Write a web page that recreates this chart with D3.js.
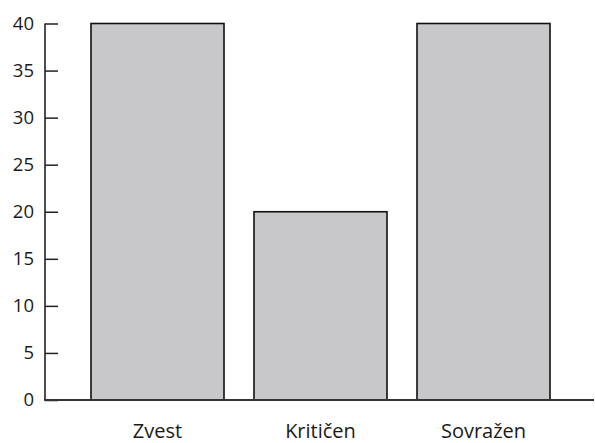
<!DOCTYPE html>
<html>
<head>
<meta charset="utf-8">
<script src="https://cdn.jsdelivr.net/npm/d3@7"></script>
<style>
  body { margin: 0; background: #fff; }
  text { font-family: "Open Sans", "Noto Sans", sans-serif; fill: #1a1a1a; }
</style>
</head>
<body>
<svg width="595" height="443"></svg>
<script>
"use strict";

const categories = ["Zvest", "Kritičen", "Sovražen"];
const values = [40, 20, 40];
const yTicks = [0, 5, 10, 15, 20, 25, 30, 35, 40];

const axisX = 45;
const axisRight = 594;
const zeroY = 400;
const topY = 23.5;

const svg = d3.select("svg");

const xScale = d3.scaleBand()
    .domain(categories)
    .range([91, 550])
    .paddingInner(30 / 163)
    .paddingOuter(0);

const yScale = d3.scaleLinear()
    .domain([0, 40])
    .range([zeroY, topY]);

// bars
svg.selectAll("rect.bar")
    .data(values)
    .join("rect")
    .attr("class", "bar")
    .attr("x", (d, i) => xScale(categories[i]))
    .attr("y", d => yScale(d))
    .attr("width", xScale.bandwidth())
    .attr("height", d => yScale(0) - yScale(d))
    .attr("fill", "#c8c8ca")
    .attr("stroke", "#111")
    .attr("stroke-width", 1.6);

// y axis
const yAxis = d3.axisLeft(yScale)
    .tickValues(yTicks)
    .tickSize(-13)
    .tickPadding(11);

const yG = svg.append("g")
    .attr("transform", `translate(${axisX},0)`)
    .call(yAxis);
yG.select(".domain").remove();
yG.selectAll(".tick line").attr("stroke", "#222").attr("stroke-width", 1.5);
yG.selectAll(".tick text")
    .attr("font-size", 18.5)
    .attr("font-family", "'Open Sans', 'Noto Sans', sans-serif")
    .attr("fill", "#1a1a1a");

svg.append("line")
    .attr("x1", axisX).attr("x2", axisX)
    .attr("y1", yScale(40)).attr("y2", zeroY + 0.75)
    .attr("stroke", "#222").attr("stroke-width", 1.6);

// x axis line
svg.append("line")
    .attr("x1", axisX - 0.8).attr("x2", axisRight)
    .attr("y1", zeroY).attr("y2", zeroY)
    .attr("stroke", "#333").attr("stroke-width", 1.8);

// category labels
svg.selectAll("text.cat")
    .data(categories)
    .join("text")
    .attr("class", "cat")
    .attr("x", d => xScale(d) + xScale.bandwidth() / 2)
    .attr("y", 438)
    .attr("text-anchor", "middle")
    .attr("font-size", 20)
    .text(d => d);
</script>
</body>
</html>
